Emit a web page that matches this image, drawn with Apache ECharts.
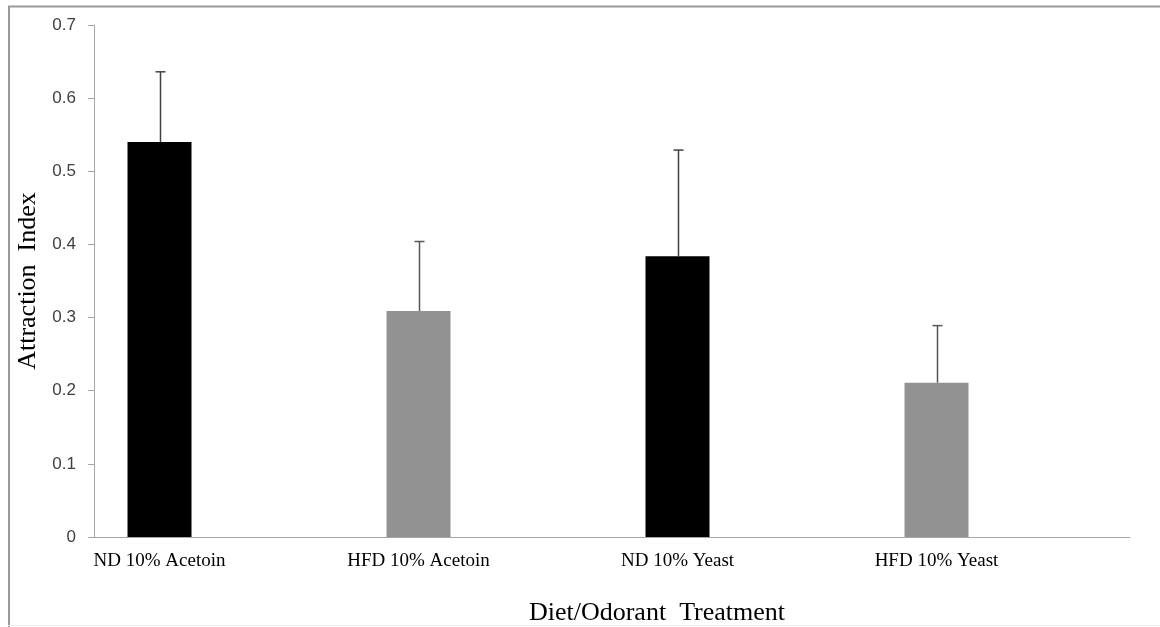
<!DOCTYPE html>
<html>
<head>
<meta charset="utf-8">
<script src="https://cdn.jsdelivr.net/npm/echarts@6/dist/echarts.min.js"></script>
<style>
  html, body { margin: 0; padding: 0; background: #fff; }
  #chart { width: 1160px; height: 627px; }
</style>
</head>
<body>
<div id="chart"></div>
<script>
// ---- data ----
const categories = ['ND 10% Acetoin', 'HFD 10% Acetoin', 'ND 10% Yeast', 'HFD 10% Yeast'];
const means = [0.540, 0.309, 0.384, 0.211];
const upperErrors = [0.096, 0.095, 0.145, 0.078];
const barColors = ['#000000', '#929292', '#000000', '#929292'];
const yTicks = { min: 0, max: 0.7, interval: 0.1 };

const BAR_W = 64;

const chart = echarts.init(document.getElementById('chart'), null, { renderer: 'canvas' });

const option = {
  animation: false,
  backgroundColor: '#ffffff',
  graphic: [
    { type: 'line', shape: { x1: 8, y1: 6.5, x2: 1160, y2: 6.5 }, style: { stroke: '#9a9a9a', lineWidth: 2 } },
    { type: 'line', shape: { x1: 9, y1: 6, x2: 9, y2: 627 }, style: { stroke: '#9a9a9a', lineWidth: 2 } },
    { type: 'line', shape: { x1: 8, y1: 625.5, x2: 1160, y2: 625.5 }, style: { stroke: '#ececec', lineWidth: 1 } }
  ],
  grid: { left: 94, right: 30, top: 25, bottom: 90, containLabel: false, outerBoundsMode: 'none' },
  xAxis: {
    type: 'category',
    data: categories,
    name: 'Diet/Odorant  Treatment',
    nameLocation: 'middle',
    nameGap: 63,
    nameTextStyle: { fontFamily: 'Liberation Serif', fontSize: 26, color: '#000', padding: [0, 0, 0, 90] },
    axisLine: { lineStyle: { color: '#a6a6a6', width: 1 } },
    axisTick: { show: false },
    axisLabel: { fontFamily: 'Liberation Serif', fontSize: 19, color: '#000', margin: 15, padding: [0, 2 * BAR_W, 0, 0] },
    splitLine: { show: false }
  },
  yAxis: {
    type: 'value',
    min: yTicks.min,
    max: yTicks.max,
    interval: yTicks.interval,
    name: 'Attraction  Index',
    nameLocation: 'middle',
    nameGap: 47,
    nameRotate: 90,
    nameTextStyle: { fontFamily: 'Liberation Serif', fontSize: 26, color: '#000' },
    axisLine: { show: true, lineStyle: { color: '#a6a6a6', width: 1 } },
    axisTick: { show: true, length: 6, lineStyle: { color: '#a6a6a6' } },
    axisLabel: { fontFamily: 'Liberation Sans', fontSize: 17, color: '#404040', margin: 18,
      formatter: v => (Math.round(v * 10) / 10).toString() },
    splitLine: { show: false }
  },
  series: [
    {
      type: 'bar',
      barWidth: BAR_W,
      barGap: '100%',
      data: means.map((v, i) => ({ value: v, itemStyle: { color: barColors[i] } })),
      z: 2
    },
    {
      type: 'bar',
      barWidth: BAR_W,
      data: means.map(() => null)
    },
    {
      type: 'custom',
      z: 3,
      data: means.map((v, i) => [i, v, v + upperErrors[i]]),
      renderItem: function (params, api) {
        const i = api.value(0);
        const base = api.coord([i, api.value(1)]);
        const top = api.coord([i, api.value(2)]);
        const x = Math.round(base[0] - BAR_W) + 0.5;
        const color = barColors[i] === '#000000' ? '#404040' : '#555555';
        return {
          type: 'group',
          children: [
            { type: 'line', shape: { x1: x, y1: base[1], x2: x, y2: top[1] }, style: { stroke: color, lineWidth: 1.5 } },
            { type: 'line', shape: { x1: x - 5, y1: top[1], x2: x + 5, y2: top[1] }, style: { stroke: color, lineWidth: 1.5 } }
          ]
        };
      }
    }
  ]
};

chart.setOption(option);
</script>
</body>
</html>
